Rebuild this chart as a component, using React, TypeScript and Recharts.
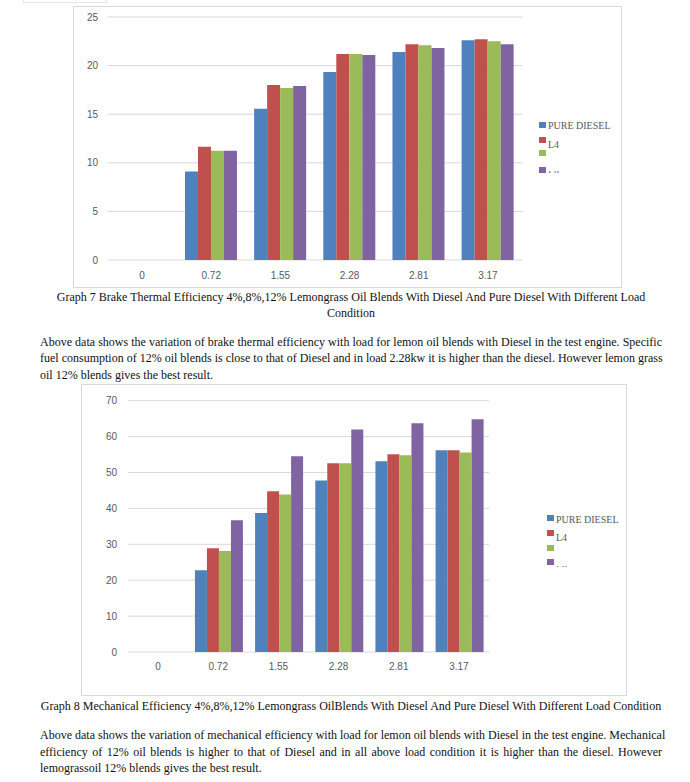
import React from "react";
import { BarChart, Bar, XAxis, YAxis, CartesianGrid } from "recharts";

const loads = ["0", "0.72", "1.55", "2.28", "2.81", "3.17"];
const seriesKeys = ["diesel", "l4", "l8", "l12"];
const legendLabels = ["PURE DIESEL", "L4", "", "L8"];
const seriesColors = ["#4F81BD", "#C0504D", "#9BBB59", "#8064A2"];

// Graph 7 - brake thermal efficiency
const bteDiesel = [0, 9.1, 15.55, 19.35, 21.4, 22.6];
const bteL4 = [0, 11.65, 18.0, 21.2, 22.2, 22.7];
const bteL8 = [0, 11.25, 17.7, 21.2, 22.1, 22.5];
const bteL12 = [0, 11.25, 17.9, 21.1, 21.8, 22.2];
const bteTicks = [0, 5, 10, 15, 20, 25];

// Graph 8 - mechanical efficiency
const meDiesel = [0, 22.8, 38.7, 47.8, 53.1, 56.2];
const meL4 = [0, 28.9, 44.8, 52.6, 55.1, 56.2];
const meL8 = [0, 28.1, 43.9, 52.6, 54.8, 55.6];
const meL12 = [0, 36.7, 54.5, 62.0, 63.7, 64.8];
const meTicks = [0, 10, 20, 30, 40, 50, 60, 70];

const caption7 = [
  "Graph 7 Brake Thermal Efficiency 4%,8%,12% Lemongrass Oil Blends With Diesel And Pure Diesel With Different Load",
  "Condition",
];
const para7 = [
  "Above data shows the variation of  brake thermal efficiency with load for lemon oil blends with Diesel in the test engine. Specific",
  "fuel consumption of 12% oil blends is close to that of Diesel and in load 2.28kw it is higher than the diesel. However lemon grass",
  "oil 12% blends gives the best result.",
];
const caption8 =
  "Graph 8 Mechanical Efficiency 4%,8%,12% Lemongrass OilBlends With Diesel And Pure Diesel With Different Load Condition";
const para8 = [
  "Above data shows the variation of mechanical efficiency with load for lemon oil blends with Diesel in the test engine. Mechanical",
  "efficiency of 12% oil blends is higher to that of Diesel and in all above load condition it is higher than the diesel. However",
  "lemograssoil 12% blends gives the best result.",
];

const build = (cols: number[][]) =>
  loads.map((load, i) => {
    const row: any = { load };
    seriesKeys.forEach((k, j) => (row[k] = cols[j][i]));
    return row;
  });

const bteData = build([bteDiesel, bteL4, bteL8, bteL12]);
const meData = build([meDiesel, meL4, meL8, meL12]);

const tickStyle = { fontSize: 10, fill: "#595959", fontFamily: "Liberation Sans, Arial, sans-serif" };
const serif = "Liberation Serif, Times New Roman, serif";

// text column of the page
const colLeft = 40;
const colWidth = 622;

type ChartBoxProps = {
  data: any[];
  ticks: number[];
  left: number;
  top: number;
  width: number;
  height: number;
  margin: any;
  yWidth: number;
  xHeight: number;
  yGap: number;
  xGap: number;
  gap: string;
};

function ChartBox(p: ChartBoxProps) {
  return (
    <div style={{ position: "absolute", left: p.left, top: p.top, width: p.width, height: p.height }}>
      <div
        style={{
          position: "absolute",
          inset: 0,
          border: "1px solid #d9d9d9",
          boxSizing: "border-box",
        }}
      />
      <BarChart
        width={p.width}
        height={p.height}
        data={p.data}
        margin={p.margin}
        barGap={0}
        barCategoryGap={p.gap}
        style={{ position: "absolute", left: 0, top: 0 }}
      >
        <CartesianGrid vertical={false} stroke="#d9d9d9" />
        <XAxis
          dataKey="load"
          height={p.xHeight}
          axisLine={false}
          tickLine={false}
          tickSize={0}
          tickMargin={p.xGap}
          tick={tickStyle}
          interval={0}
        />
        <YAxis
          width={p.yWidth}
          domain={[p.ticks[0], p.ticks[p.ticks.length - 1]]}
          ticks={p.ticks}
          axisLine={false}
          tickLine={false}
          tickSize={0}
          tickMargin={p.yGap}
          tick={tickStyle}
        />
        {seriesKeys.map((k, i) => (
          <Bar key={k} dataKey={k} fill={seriesColors[i]} isAnimationActive={false} />
        ))}
      </BarChart>
    </div>
  );
}

type LegendProps = {
  swatchX: number;
  textX: number;
  swatchTops: number[];
  textCenters: number[];
  clipTop: number;
  clipBottom: number;
};

// the legend box in the source is too short, so the last label is cut off
function SideLegend(p: LegendProps) {
  return (
    <>
      {seriesKeys.map((k, i) => (
        <div
          key={k}
          style={{
            position: "absolute",
            left: p.swatchX,
            top: p.swatchTops[i],
            width: 7,
            height: 6,
            background: seriesColors[i],
          }}
        />
      ))}
      {legendLabels.map((label, i) => {
        if (!label) return null;
        const last = i === legendLabels.length - 1;
        return (
          <div
            key={i}
            style={{
              position: "absolute",
              left: p.textX,
              top: last ? p.clipTop : p.textCenters[i] - 5.1,
              height: last ? p.clipBottom - p.clipTop : 10,
              overflow: "hidden",
            }}
          >
            <div
              style={{
                position: "relative",
                top: last ? -1.8 : 0,
                fontFamily: serif,
                fontSize: 10,
                lineHeight: "10px",
                color: "#595959",
                whiteSpace: "nowrap",
              }}
            >
              {label}
            </div>
          </div>
        );
      })}
    </>
  );
}

function Line({ text, center, align }: any) {
  return (
    <div
      style={{
        position: "absolute",
        left: colLeft,
        top: center - 8.5,
        width: colWidth,
        fontFamily: serif,
        fontSize: 12,
        lineHeight: "16px",
        color: "#111",
        whiteSpace: "nowrap",
        textAlign: align,
        textAlignLast: align,
      }}
    >
      {text}
    </div>
  );
}

export default function App() {
  return (
    <div
      style={{
        position: "absolute",
        left: 0,
        top: 0,
        width: 690,
        height: 782,
        background: "#fff",
        overflow: "hidden",
      }}
    >
      <div
        style={{
          position: "absolute",
          left: 23,
          top: -6,
          width: 84,
          height: 9,
          border: "1px solid #e6e6e6",
          boxSizing: "border-box",
        }}
      />

      <ChartBox
        data={bteData}
        ticks={bteTicks}
        left={73}
        top={6}
        width={549}
        height={282}
        margin={{ top: 11, right: 99.5, left: 0, bottom: 0 }}
        yWidth={34.5}
        xHeight={28}
        yGap={9.5}
        xGap={11.7}
        gap="12%"
      />
      <SideLegend
        swatchX={539}
        textX={548}
        swatchTops={[122, 137, 150, 167]}
        textCenters={[126.5, 145, 0, 0]}
        clipTop={170.5}
        clipBottom={173}
      />

      <Line text={caption7[0]} center={297} align="center" />
      <Line text={caption7[1]} center={313} align="center" />
      <Line text={para7[0]} center={342} align="justify" />
      <Line text={para7[1]} center={358} align="justify" />
      <Line text={para7[2]} center={375} align="left" />

      <ChartBox
        data={meData}
        ticks={meTicks}
        left={81}
        top={384}
        width={546}
        height={312}
        margin={{ top: 16.7, right: 138, left: 0, bottom: 0 }}
        yWidth={47}
        xHeight={44}
        yGap={11}
        xGap={10.4}
        gap="11.25%"
      />
      <SideLegend
        swatchX={546.5}
        textX={556}
        swatchTops={[515, 530, 545, 559]}
        textCenters={[520, 538.5, 0, 0]}
        clipTop={565.7}
        clipBottom={567.5}
      />

      <Line text={caption8} center={706} align="center" />
      <Line text={para8[0]} center={735} align="justify" />
      <Line text={para8[1]} center={752} align="justify" />
      <Line text={para8[2]} center={768} align="left" />
    </div>
  );
}
